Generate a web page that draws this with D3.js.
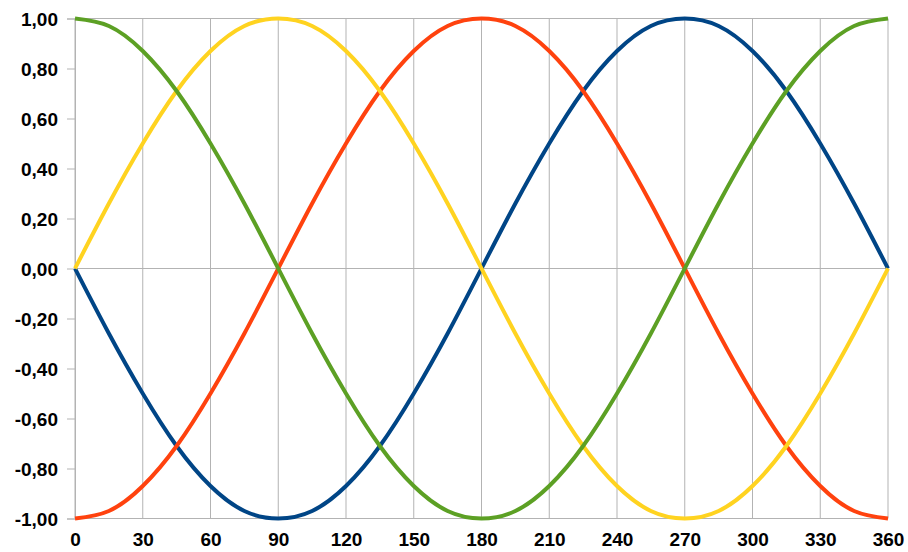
<!DOCTYPE html>
<html>
<head>
<meta charset="utf-8">
<script src="https://cdn.jsdelivr.net/npm/d3@7"></script>
<style>
  body { margin: 0; background: #fff; }
  text { font-family: "Liberation Sans", Arial, sans-serif; font-weight: bold; fill: #000; }
</style>
</head>
<body>
<script>
var w = 908;
var h = 552;

// Data (degrees, every 15 degrees)
var angles = [0, 15, 30, 45, 60, 75, 90, 105, 120, 135, 150, 165, 180,
              195, 210, 225, 240, 255, 270, 285, 300, 315, 330, 345, 360];
var yellowValues = [0, 0.26, 0.50, 0.71, 0.87, 0.97, 1.00, 0.97, 0.87, 0.71, 0.50, 0.26, 0,
                    -0.26, -0.50, -0.71, -0.87, -0.97, -1.00, -0.97, -0.87, -0.71, -0.50, -0.26, 0];
var greenValues = [1.00, 0.97, 0.87, 0.71, 0.50, 0.26, 0, -0.26, -0.50, -0.71, -0.87, -0.97, -1.00,
                   -0.97, -0.87, -0.71, -0.50, -0.26, 0, 0.26, 0.50, 0.71, 0.87, 0.97, 1.00];
var redValues = [-1.00, -0.97, -0.87, -0.71, -0.50, -0.26, 0, 0.26, 0.50, 0.71, 0.87, 0.97, 1.00,
                 0.97, 0.87, 0.71, 0.50, 0.26, 0, -0.26, -0.50, -0.71, -0.87, -0.97, -1.00];
var blueValues = [0, -0.26, -0.50, -0.71, -0.87, -0.97, -1.00, -0.97, -0.87, -0.71, -0.50, -0.26, 0,
                  0.26, 0.50, 0.71, 0.87, 0.97, 1.00, 0.97, 0.87, 0.71, 0.50, 0.26, 0];

var xTicks = [0, 30, 60, 90, 120, 150, 180, 210, 240, 270, 300, 330, 360];
var yTicks = [1, 0.8, 0.6, 0.4, 0.2, 0, -0.2, -0.4, -0.6, -0.8, -1];

var series = [
  { values: blueValues, color: "#004586" },
  { values: redValues, color: "#ff420e" },
  { values: yellowValues, color: "#ffd320" },
  { values: greenValues, color: "#5ca024" }
];

var svg = d3.select("body")
            .append("svg")
            .attr("width", w)
            .attr("height", h);

var xScale = d3.scaleLinear().domain([0, 360]).range([75, 888]);
var yScale = d3.scaleLinear().domain([-1, 1]).range([518.5, 18.5]);

var gridColor = "#b3b3b3";

// vertical grid lines
svg.append("g")
   .selectAll("line")
   .data(xTicks)
   .enter()
   .append("line")
   .attr("x1", function(d) { return xScale(d); })
   .attr("x2", function(d) { return xScale(d); })
   .attr("y1", yScale(1))
   .attr("y2", yScale(-1))
   .attr("stroke", gridColor)
   .attr("stroke-width", 1);

// top, bottom and zero lines
svg.append("g")
   .selectAll("line")
   .data([1, 0, -1])
   .enter()
   .append("line")
   .attr("x1", xScale(0))
   .attr("x2", xScale(360))
   .attr("y1", function(d) { return yScale(d); })
   .attr("y2", function(d) { return yScale(d); })
   .attr("stroke", gridColor)
   .attr("stroke-width", 1);

// y axis
var yAxis = d3.axisLeft(yScale)
              .tickValues(yTicks)
              .tickSize(8)
              .tickPadding(9)
              .tickFormat(function(d) { return d3.format(".2f")(d).replace(".", ",").replace("−", "-"); });

var gy = svg.append("g")
   .attr("transform", "translate(" + xScale(0) + ",0)")
   .call(yAxis);
gy.selectAll("line").attr("stroke", gridColor);
gy.select(".domain").attr("stroke", gridColor);
gy.selectAll("text").attr("font-size", "19px").attr("dy", "0.36em")
  .style("font-family", "'Liberation Sans', Arial, sans-serif").style("font-weight", "bold");

// x axis labels
var xAxis = d3.axisBottom(xScale)
              .tickValues(xTicks)
              .tickSize(0)
              .tickPadding(14);

var gx = svg.append("g")
   .attr("transform", "translate(0," + yScale(-1) + ")")
   .call(xAxis);
gx.select(".domain").remove();
gx.selectAll("text").attr("font-size", "19px")
  .style("font-family", "'Liberation Sans', Arial, sans-serif").style("font-weight", "bold");

// curves
var line = d3.line()
             .x(function(d, i) { return xScale(angles[i]); })
             .y(function(d) { return yScale(d); })
             .curve(d3.curveNatural);

svg.selectAll("path.curve")
   .data(series)
   .enter()
   .append("path")
   .attr("class", "curve")
   .attr("d", function(d) { return line(d.values); })
   .attr("fill", "none")
   .attr("stroke", function(d) { return d.color; })
   .attr("stroke-width", 4)
   .attr("stroke-linejoin", "round");
</script>
</body>
</html>
